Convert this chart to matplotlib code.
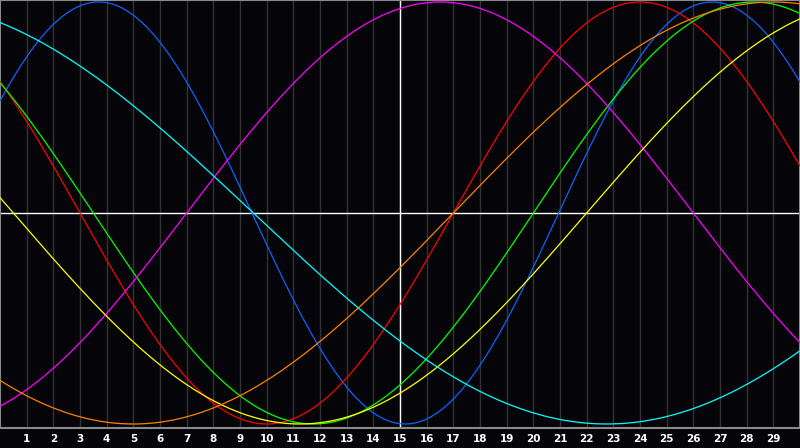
import matplotlib
matplotlib.use("Agg")
import matplotlib.pyplot as plt
import numpy as np

# Biorhythm cycles: period (days) and day of the peak
cycle_names = ["physical", "emotional", "intellectual", "intuitive",
               "aesthetic", "awareness", "spiritual"]
periods = [23, 28, 33, 38, 43, 48, 53]
peak_days = [3.7, 24.0, 28.25, 16.5, 32.75, 29.0, -3.75]
colors = ["#0a64ff", "#ff0000", "#00ff00", "#ff00ff",
          "#ffff00", "#ff8000", "#00ffff"]

day_labels = list(range(1, 30))
n_days = 30
today = 15

bg = "#050509"

fig = plt.figure(figsize=(8, 4.48), dpi=100, facecolor=bg)
ax = fig.add_axes([0, 20 / 448, 1, 428 / 448])
ax.set_facecolor(bg)

# day grid
for d in day_labels:
    ax.axvline(d, color="#333333", lw=1.0, zorder=1)
ax.axvline(today, color="white", lw=1.0, zorder=2)
ax.axhline(0, color="white", lw=1.0, zorder=2)

t = np.linspace(0, n_days, 1200)
for name, p, pk, c in zip(cycle_names, periods, peak_days, colors):
    ax.plot(t, np.cos(2 * np.pi * (t - pk) / p), color=c, lw=0.9, zorder=3, label=name)

ax.set_xlim(0, n_days)
ax.set_ylim(-1.0 - 4 / 211, 1.0 + 2 / 211)
ax.set_xticks([])
ax.set_yticks([])
for s in ax.spines.values():
    s.set_color("#8a8a8a")
    s.set_linewidth(1.5)

for d in day_labels:
    fig.text(d / n_days, 9.5 / 448, str(d), color="white", fontsize=7.5,
             fontweight="bold", ha="center", va="center")

fig.savefig("out.png", dpi=100, facecolor=bg)
